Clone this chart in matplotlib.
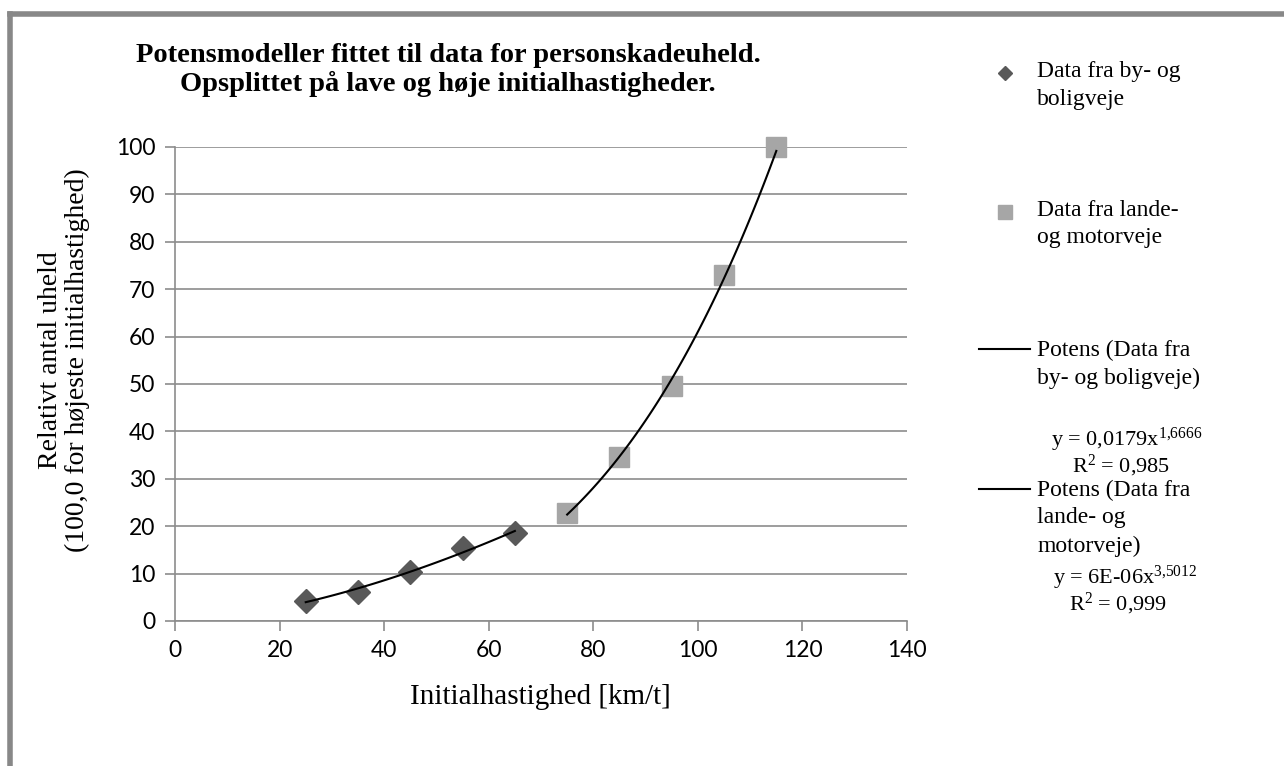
import numpy as np
import matplotlib
matplotlib.use("Agg")
import matplotlib.pyplot as plt
from matplotlib.lines import Line2D

# Data
hast_by = [25, 35, 45, 55, 65]
uheld_by = [4.2, 6.2, 10.4, 15.5, 18.6]
hast_land = [75, 85, 95, 105, 115]
uheld_land = [22.7, 34.7, 49.6, 73.0, 100.0]

x_ticks = [0, 20, 40, 60, 80, 100, 120, 140]
y_ticks = [0, 10, 20, 30, 40, 50, 60, 70, 80, 90, 100]

plt.rcParams["mathtext.fontset"] = "custom"
plt.rcParams["mathtext.rm"] = "Liberation Serif"
plt.rcParams["mathtext.it"] = "Liberation Serif"

SERIF = "Liberation Serif"
SANS = "Lato"
GRAA = "#8c8c8c"
W, H = 1284, 766


def fx(px):
    return px / W


def fy(py):
    return 1 - py / H


def potens_fit(x, y):
    # potensmodel y = a*x^b via lineær fit i log-log
    b, loga = np.polyfit(np.log(x), np.log(y), 1)
    xs = np.linspace(min(x), max(x), 100)
    return xs, np.exp(loga) * xs ** b


fig = plt.figure(figsize=(12.84, 7.66), dpi=100)
ax = fig.add_axes([0.1363, 0.1893, 0.5701, 0.6188])

ax.plot(hast_by, uheld_by, linestyle="none", marker="D", markersize=12,
        color="#595959", zorder=3, clip_on=False)
ax.plot(hast_land, uheld_land, linestyle="none", marker="s", markersize=14.5,
        color="#a6a6a6", zorder=3, clip_on=False)

xs, ys = potens_fit(hast_by, uheld_by)
ax.plot(xs, ys, color="black", lw=1.5, zorder=4, clip_on=False)
xs, ys = potens_fit(hast_land, uheld_land)
ax.plot(xs, ys, color="black", lw=1.5, zorder=4, clip_on=False)

ax.set_xlim(0, 140)
ax.set_ylim(0, 100)
ax.set_xticks(x_ticks)
ax.set_yticks(y_ticks)
ax.grid(axis="y", color=GRAA, lw=1.2)
ax.set_axisbelow(True)
for s in ["top", "right"]:
    ax.spines[s].set_visible(False)
for s in ["left", "bottom"]:
    ax.spines[s].set_color(GRAA)
    ax.spines[s].set_linewidth(1.2)
ax.tick_params(colors=GRAA, length=7, width=1.2, labelcolor="black",
               labelsize=16.5, pad=7)
for lab in ax.get_xticklabels() + ax.get_yticklabels():
    lab.set_fontfamily(SANS)

# aksetitler
fig.text(fx(540), fy(697), "Initialhastighed [km/t]", ha="center",
         va="center", fontfamily=SERIF, fontsize=21)
fig.text(fx(64), fy(360),
         "Relativt antal uheld\n(100,0 for højeste initialhastighed)",
         ha="center", va="center", rotation=90, fontfamily=SERIF,
         fontsize=20, linespacing=1.1)

fig.text(fx(448), fy(70),
         "Potensmodeller fittet til data for personskadeuheld.\n"
         "Opsplittet på lave og høje initialhastigheder.",
         ha="center", va="center", fontfamily=SERIF, fontweight="bold",
         fontsize=20.5, linespacing=1.12)

# manuel legende til højre
fig.add_artist(Line2D([fx(1005)], [fy(73)], marker="D", markersize=7.5,
                      color="#595959", transform=fig.transFigure))
fig.add_artist(Line2D([fx(1005)], [fy(212)], marker="s", markersize=10,
                      color="#a6a6a6", transform=fig.transFigure))
fig.add_artist(Line2D([fx(979), fx(1030)], [fy(349), fy(349)], color="black",
                      lw=1.5, transform=fig.transFigure))
fig.add_artist(Line2D([fx(979), fx(1030)], [fy(489), fy(489)], color="black",
                      lw=1.5, transform=fig.transFigure))


def legend_linjer(tekster, y_start, pitch=28):
    for i, t in enumerate(tekster):
        fig.text(fx(1037), fy(y_start + i * pitch), t, ha="left",
                 va="center", fontfamily=SERIF, fontsize=17)


legend_linjer(["Data fra by- og", "boligveje"], 71)
legend_linjer(["Data fra lande-", "og motorveje"], 210)
legend_linjer(["Potens (Data fra", "by- og boligveje)"], 350)
legend_linjer(["Potens (Data fra", "lande- og", "motorveje)"], 490)

eq_kw = dict(ha="center", va="baseline", fontfamily=SERIF, fontsize=16)
fig.text(fx(1127), fy(446), "y = 0,0179x$^{1{,}6666}$", **eq_kw)
fig.text(fx(1121), fy(472), "R$^{2}$ = 0,985", **eq_kw)
fig.text(fx(1125), fy(584), "y = 6E-06x$^{3{,}5012}$", **eq_kw)
fig.text(fx(1118), fy(610), "R$^{2}$ = 0,999", **eq_kw)

# grå ramme (venstre og top)
fig.add_artist(Line2D([fx(10.5), fx(10.5)], [0, fy(14)], color="#888888",
                      lw=4, transform=fig.transFigure, solid_capstyle="projecting"))
fig.add_artist(Line2D([fx(10.5), 1], [fy(14), fy(14)], color="#888888",
                      lw=4, transform=fig.transFigure, solid_capstyle="projecting"))

fig.savefig("out.png", dpi=100)
